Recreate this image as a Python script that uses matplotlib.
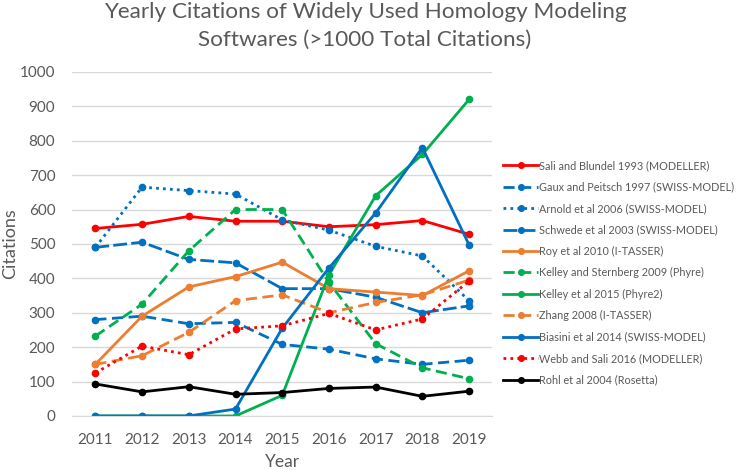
import numpy as np
import matplotlib.pyplot as plt

plt.rcParams['font.family'] = ['Lato', 'DejaVu Sans']

years = [2011, 2012, 2013, 2014, 2015, 2016, 2017, 2018, 2019]

sali_blundel = [545, 557, 580, 566, 566, 550, 556, 568, 528]
gaux_peitsch = [280, 290, 268, 272, 208, 194, 166, 150, 162]
arnold = [490, 665, 655, 645, 570, 540, 493, 465, 335]
schwede = [490, 505, 455, 445, 370, 370, 345, 300, 320]
roy = [150, 290, 375, 405, 447, 370, 360, 350, 422]
kelley_sternberg = [232, 325, 480, 600, 600, 388, 210, 140, 108]
kelley_2015 = [0, 0, 0, 0, 60, 410, 640, 760, 920]
zhang = [150, 175, 243, 335, 352, 300, 330, 352, 395]
biasini = [0, 0, 0, 20, 255, 430, 590, 780, 497]
webb_sali = [125, 203, 178, 253, 262, 298, 250, 282, 392]
rohl = [93, 70, 85, 63, 68, 80, 84, 57, 72]

labels = ['Sali and Blundel 1993 (MODELLER)', 'Gaux and Peitsch 1997 (SWISS-MODEL)',
          'Arnold et al 2006 (SWISS-MODEL)', 'Schwede et al 2003 (SWISS-MODEL)',
          'Roy et al 2010 (I-TASSER)', 'Kelley and Sternberg 2009 (Phyre)',
          'Kelley et al 2015 (Phyre2)', 'Zhang 2008 (I-TASSER)',
          'Biasini et al 2014 (SWISS-MODEL)', 'Webb and Sali 2016 (MODELLER)',
          'Rohl et al 2004 (Rosetta)']

red = '#FF0000'
blue = '#0070C0'
orange = '#ED7D31'
green = '#00B050'

series = [
    (sali_blundel, red, '-'),
    (gaux_peitsch, blue, (0, (4, 2))),
    (arnold, blue, (0, (1, 1.5))),
    (schwede, blue, (0, (5, 1.5))),
    (roy, orange, '-'),
    (kelley_sternberg, green, (0, (4, 2))),
    (kelley_2015, green, '-'),
    (zhang, orange, (0, (4, 2))),
    (biasini, blue, '-'),
    (webb_sali, red, (0, (1, 1.5))),
    (rohl, 'black', '-'),
]

fig = plt.figure(figsize=(7.39, 4.70), dpi=100)
ax = fig.add_axes([0.0974, 0.115, 0.569, 0.732])

for (vals, col, ls), lab in zip(series, labels):
    ax.plot(years, vals, color=col, linestyle=ls, linewidth=2, marker='o',
            markersize=4.5, label=lab)

gray = '#595959'
ax.set_xlim(2010.5, 2019.5)
ax.set_ylim(0, 1000)
ax.set_xticks(years)
ax.set_yticks(np.arange(0, 1001, 100))
ax.grid(axis='y', color='#D9D9D9', linewidth=1)
ax.set_axisbelow(True)
for s in ['top', 'right', 'left']:
    ax.spines[s].set_visible(False)
ax.spines['bottom'].set_color('#D9D9D9')
ax.tick_params(axis='both', length=0, labelsize=11, labelcolor=gray)
ax.tick_params(axis='y', pad=12)
ax.tick_params(axis='x', pad=12)
ax.set_xlabel('Year', fontsize=12.5, color=gray, labelpad=5)
ax.set_ylabel('Citations', fontsize=13, color=gray)
ax.yaxis.set_label_coords(-0.128, 0.5)

fig.text(0.494, 0.995, 'Yearly Citations of Widely Used Homology Modeling\nSoftwares (>1000 Total Citations)',
         fontsize=16.2, color=gray, ha='center', va='top', linespacing=1.5)

fig.legend(loc='upper left', bbox_to_anchor=(0.668, 0.68), frameon=False,
           fontsize=7.8, labelcolor=gray, handlelength=3.2, handletextpad=0.1,
           labelspacing=0.96, markerscale=0.9)

fig.savefig('out.png', dpi=100)
